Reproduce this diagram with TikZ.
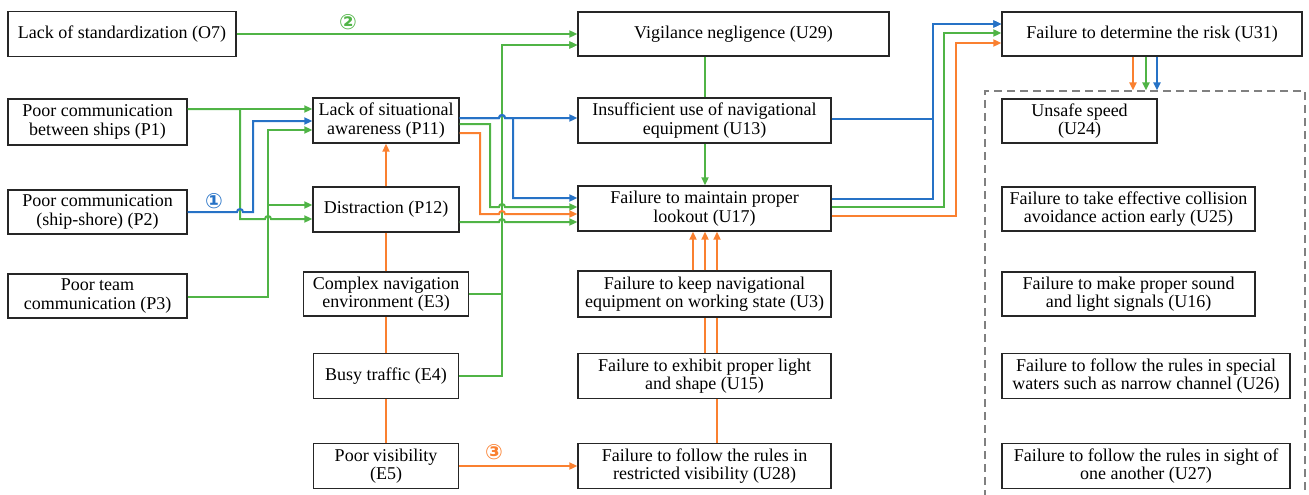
\documentclass[tikz,border=0pt]{standalone}
\usepackage{fontspec}
\setmainfont{Liberation Serif}
\newfontfamily\symfont{DejaVu Sans}
\usetikzlibrary{arrows.meta}
\definecolor{lgreen}{RGB}{80,180,70}
\definecolor{lblue}{RGB}{38,114,198}
\definecolor{lorange}{RGB}{250,128,48}
\begin{document}
\begin{tikzpicture}[x=1pt,y=-1pt,
  box/.style={draw=black!85, line width=1.4pt, inner sep=0pt, minimum height=45pt,
    align=center, font=\fontsize{18}{18.5}\selectfont},
  conn/.style={line width=2pt},
  g/.style={conn, draw=lgreen},
  b/.style={conn, draw=lblue},
  o/.style={conn, draw=lorange},
  tip/.style={-{Triangle[length=8pt,width=7pt]}},
  num/.style={font=\symfont\bfseries\fontsize{21}{21}\selectfont, inner sep=0pt}
]
\useasboundingbox (0,0) rectangle (1309,495);

% ---- factor boxes ----
\node[box, minimum width=228pt] (O7) at (122,34) {Lack of standardization (O7)};
\node[box, minimum width=179pt, minimum height=46pt] (P1) at (97.5,122) {Poor communication\\between ships (P1)};
\node[box, minimum width=179pt, minimum height=44pt] (P2) at (97.5,212) {Poor communication\\(ship-shore) (P2)};
\node[box, minimum width=179pt, minimum height=44pt] (P3) at (97.5,296) {Poor team\\communication (P3)};
\node[box, minimum width=146pt] (P11) at (386,120.5) {Lack of situational\\awareness (P11)};
\node[box, minimum width=146pt] (P12) at (386,209.5) {Distraction (P12)};
\node[box, minimum width=165pt, minimum height=44pt] (E3) at (386,294) {Complex navigation\\environment (E3)};
\node[box, minimum width=145pt] (E4) at (386,376) {Busy traffic (E4)};
\node[box, minimum width=145pt] (E5) at (386,466) {Poor visibility\\(E5)};

\node[box, minimum width=311pt, minimum height=44pt] (U29) at (733.5,34) {Vigilance negligence (U29)};
\node[box, minimum width=253pt] (U13) at (704.5,120.5) {Insufficient use of navigational\\equipment (U13)};
\node[box, minimum width=253pt] (U17) at (704.5,208.5) {Failure to maintain proper\\lookout (U17)};
\node[box, minimum width=253pt, minimum height=46pt] (U3) at (704.5,294) {Failure to keep navigational\\equipment on working state (U3)};
\node[box, minimum width=253pt] (U15) at (704.5,376) {Failure to exhibit proper light\\and shape (U15)};
\node[box, minimum width=253pt] (U28) at (704.5,466) {Failure to follow the rules in\\restricted visibility (U28)};

\node[box, minimum width=300pt, minimum height=44pt] (U31) at (1152,34) {Failure to determine the risk (U31)};

% ---- dashed group of unsafe acts ----
\node[draw=black!50, dashed, dash pattern=on 8pt off 5pt, line width=1.2pt, inner sep=0pt,
  minimum width=320pt, minimum height=430pt] (grp) at (1145,306) {};
\node[box, minimum width=155pt, minimum height=44pt] (U24) at (1079.5,121) {Unsafe speed\\(U24)};
\node[box, minimum width=253pt, minimum height=44pt] (U25) at (1128.5,209) {Failure to take effective collision\\avoidance action early (U25)};
\node[box, minimum width=253pt, minimum height=44pt] (U16) at (1128.5,294) {Failure to make proper sound\\and light signals (U16)};
\node[box, minimum width=288pt] (U26) at (1146,376) {Failure to follow the rules in special\\waters such as narrow channel (U26)};
\node[box, minimum width=288pt] (U27) at (1146,466) {Failure to follow the rules in sight of\\one another (U27)};

% ---- path labels ----
\node[num, text=lblue] (n1) at (214,201) {①};
\node[num, text=lgreen] (n2) at (348,22) {②};
\node[num, text=lorange] (n3) at (494,452) {③};

% ---- green connectors ----
\draw[g,tip] (O7.east) -- (U29.west);
\draw[g,tip] (P1.east |- 0,109) -- (P11.west |- 0,109);
\draw[g,tip] (P1.east |- 0,109) -- (240,109) -- (240,219) -- (265,219)
  arc[start angle=180,end angle=360,radius=3] -- (P12.west |- 0,219);
\draw[g,tip] (P3.east |- 0,297) -- (268,297) -- (268,130) -- (P11.west |- 0,130);
\draw[g,tip] (P3.east |- 0,297) -- (268,297) -- (268,205) -- (P12.west |- 0,205);
\draw[g,tip] (P11.east |- 0,124) -- (490,124) -- (490,207) -- (499,207)
  arc[start angle=180,end angle=360,radius=3] -- (U17.west |- 0,207);
\draw[g,tip] (P12.east |- 0,222) -- (499,222)
  arc[start angle=180,end angle=360,radius=3] -- (U17.west |- 0,222);
\draw[g,tip] (E3.east) -- (502,294) -- (502,45) -- (U29.west |- 0,45);
\draw[g,tip] (E4.east) -- (502,376) -- (502,45) -- (U29.west |- 0,45);
\draw[g] (U29.south -| 705,0) -- (U13.north -| 705,0);
\draw[g,tip] (U13.south -| 705,0) -- (U17.north -| 705,0);
\draw[g,tip] (U17.east |- 0,207) -- (944,207) -- (944,33) -- (U31.west |- 0,33);
\draw[g,tip] (U31.south -| 1146,0) -- (grp.north -| 1146,0);

% ---- blue connectors ----
\draw[b,tip] (P2.east) -- (237,212) arc[start angle=180,end angle=360,radius=3]
  -- (253,212) -- (253,121) -- (P11.west |- 0,121);
\draw[b,tip] (P11.east |- 0,118) -- (499,118)
  arc[start angle=180,end angle=360,radius=3] -- (U13.west |- 0,118);
\draw[b,tip] (P11.east |- 0,118) -- (499,118)
  arc[start angle=180,end angle=360,radius=3] -- (513,118) -- (513,198) -- (U17.west |- 0,198);
\draw[b,tip] (U13.east |- 0,119) -- (933,119) -- (933,24) -- (U31.west |- 0,24);
\draw[b,tip] (U17.east |- 0,199) -- (933,199) -- (933,24) -- (U31.west |- 0,24);
\draw[b,tip] (U31.south -| 1157,0) -- (grp.north -| 1157,0);

% ---- orange connectors ----
\draw[o] (E5.north) -- (E4.south);
\draw[o] (E4.north) -- (E3.south);
\draw[o] (E3.north) -- (P12.south);
\draw[o,tip] (P12.north) -- (P11.south);
\draw[o,tip] (P11.east |- 0,133) -- (480,133) -- (480,214) -- (499,214)
  arc[start angle=180,end angle=360,radius=3] -- (U17.west |- 0,214);
\draw[o,tip] (E5.east) -- (U28.west);
\draw[o] (U28.north -| 717,0) -- (U15.south -| 717,0);
\draw[o] (U15.north -| 717,0) -- (U3.south -| 717,0);
\draw[o,tip] (U3.north -| 717,0) -- (U17.south -| 717,0);
\draw[o] (U15.north -| 705,0) -- (U3.south -| 705,0);
\draw[o,tip] (U3.north -| 705,0) -- (U17.south -| 705,0);
\draw[o,tip] (U3.north -| 693,0) -- (U17.south -| 693,0);
\draw[o,tip] (U17.east |- 0,216) -- (956,216) -- (956,43) -- (U31.west |- 0,43);
\draw[o,tip] (U31.south -| 1133,0) -- (grp.north -| 1133,0);
\end{tikzpicture}
\end{document}
